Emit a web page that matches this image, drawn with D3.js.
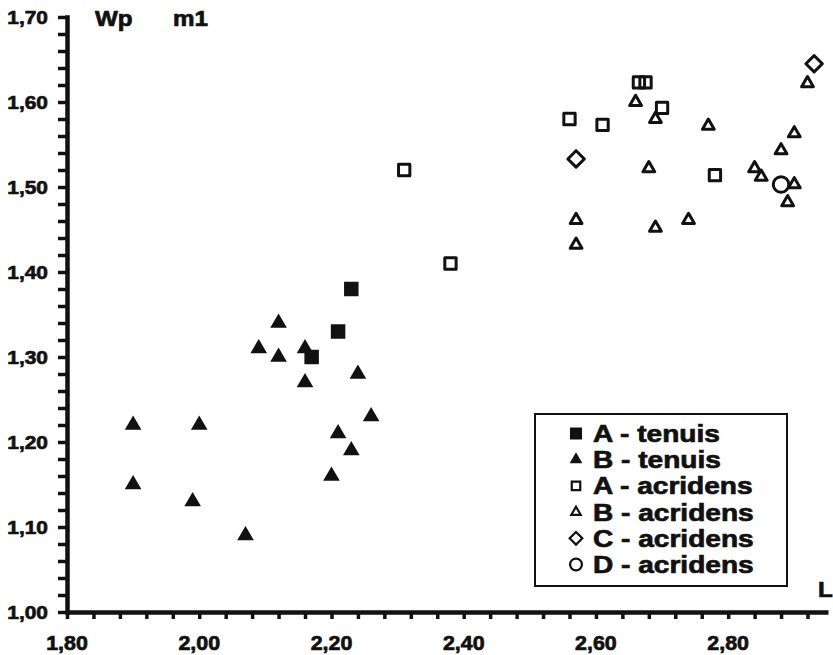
<!DOCTYPE html>
<html>
<head>
<meta charset="utf-8">
<script src="https://cdn.jsdelivr.net/npm/d3@7"></script>
<style>
  body { margin: 0; background: #fff; }
  svg { display: block; }
  text { font-family: "Liberation Sans", Arial, sans-serif; font-weight: bold; fill: #111; stroke: #111; stroke-width: 0.7px; }
</style>
</head>
<body>
<div id="chart"></div>
<script>
// Tick labels
const xTickValues = [1.8, 2.0, 2.2, 2.4, 2.6, 2.8];
const xTickLabels = ["1,80", "2,00", "2,20", "2,40", "2,60", "2,80"];
const yTickValues = [1.0, 1.1, 1.2, 1.3, 1.4, 1.5, 1.6, 1.7];
const yTickLabels = ["1,00", "1,10", "1,20", "1,30", "1,40", "1,50", "1,60", "1,70"];

// Series: [L, Wp]
const aTenuis = [[2.23, 1.38], [2.21, 1.33], [2.17, 1.30]];
const bTenuis = [
  [1.90, 1.22], [1.90, 1.15], [2.00, 1.22], [1.99, 1.13], [2.07, 1.09],
  [2.09, 1.31], [2.12, 1.34], [2.12, 1.30], [2.16, 1.31], [2.16, 1.27],
  [2.24, 1.28], [2.26, 1.23], [2.21, 1.21], [2.23, 1.19], [2.20, 1.16]
];
const aAcridens = [
  [2.31, 1.52], [2.38, 1.41], [2.56, 1.58], [2.61, 1.573],
  [2.665, 1.623], [2.675, 1.623], [2.70, 1.593], [2.78, 1.514]
];
const bAcridens = [
  [2.66, 1.60], [2.69, 1.58], [2.77, 1.572], [2.68, 1.522], [2.57, 1.461],
  [2.57, 1.432], [2.69, 1.452], [2.74, 1.461], [2.84, 1.522], [2.85, 1.512],
  [2.88, 1.543], [2.90, 1.563], [2.90, 1.503], [2.89, 1.482], [2.92, 1.622]
];
const cAcridens = [[2.57, 1.533], [2.93, 1.645]];
const dAcridens = [[2.88, 1.503]];

const legendLabels = ["A - tenuis", "B - tenuis", "A - acridens", "B - acridens", "C - acridens", "D - acridens"];

const W = 833, H = 655;
const ink = "#111";

const svg = d3.select("#chart").append("svg")
  .attr("width", W)
  .attr("height", H)
  .attr("viewBox", [0, 0, W, H]);

// Scales
const x = d3.scaleLinear().domain([1.80, 2.951]).range([67, 828]);
const y = d3.scaleLinear().domain([1.00, 1.70]).range([612, 17]);

// stretched bold text, like the scanned original
function label(g, tx, ty, str, size, anchor, sx) {
  return g.append("text")
    .attr("transform", `translate(${tx},${ty}) scale(${sx},1)`)
    .attr("text-anchor", anchor)
    .style("font-size", size + "px")
    .text(str);
}

// X axis
const xMinor = d3.range(1.80, 2.93, 0.04);
svg.append("g")
  .attr("transform", `translate(0,${y(1.0)})`)
  .call(d3.axisBottom(x).tickValues(xMinor).tickSize(7).tickSizeOuter(0).tickFormat(""))
  .call((g) => g.select(".domain").attr("stroke", ink).attr("stroke-width", 4.5))
  .call((g) => g.selectAll(".tick line").attr("stroke", ink).attr("stroke-width", 3.5));

// Y axis
const yMinor = d3.range(1.00, 1.701, 0.02);
svg.append("g")
  .attr("transform", `translate(${x(1.8)},0)`)
  .call(d3.axisLeft(y).tickValues(yMinor).tickSize(9).tickSizeOuter(0).tickFormat(""))
  .call((g) => g.select(".domain").attr("stroke", ink).attr("stroke-width", 4.5).attr("stroke-linecap", "square"))
  .call((g) => g.selectAll(".tick line").attr("stroke", ink).attr("stroke-width", 3.5));

const labels = svg.append("g");
xTickValues.forEach((v, i) => label(labels, x(v), 650, xTickLabels[i], 20, "middle", 1.07));
yTickValues.forEach((v, i) => label(labels, 48, y(v) + 7, yTickLabels[i], 19, "end", 1.1));

label(labels, 95, 26, "Wp", 22, "start", 1.1);
label(labels, 173, 26, "m1", 22, "start", 1.1);
label(labels, 818, 597, "L", 22, "start", 1.1);

// Markers
const sym = (type, size) => d3.symbol().type(type).size(size)();

const series = [
  { data: aTenuis, path: sym(d3.symbolSquare, 210), fill: ink, stroke: "none", rot: 0 },
  { data: bTenuis, path: sym(d3.symbolTriangle, 120), fill: ink, stroke: "none", rot: 0 },
  { data: aAcridens, path: sym(d3.symbolSquare, 128), fill: "none", stroke: ink, rot: 0 },
  { data: bAcridens, path: sym(d3.symbolTriangle, 60), fill: "none", stroke: ink, rot: 0 },
  { data: cAcridens, path: sym(d3.symbolSquare, 136), fill: "none", stroke: ink, rot: 45 },
  { data: dAcridens, path: sym(d3.symbolCircle, 190), fill: "none", stroke: ink, rot: 0 }
];

series.forEach((s) => {
  svg.append("g")
    .selectAll("path")
    .data(s.data)
    .join("path")
    .attr("transform", (d) => `translate(${x(d[0])},${y(d[1])}) rotate(${s.rot})`)
    .attr("d", s.path)
    .attr("fill", s.fill)
    .attr("stroke", s.stroke)
    .attr("stroke-width", 3)
    .attr("stroke-linejoin", "round");
});

// Legend
const legend = svg.append("g");
legend.append("rect")
  .attr("x", 535).attr("y", 414)
  .attr("width", 252).attr("height", 172)
  .attr("fill", "#fff")
  .attr("stroke", ink)
  .attr("stroke-width", 2);

const legendSyms = [
  { path: sym(d3.symbolSquare, 144), fill: ink, stroke: "none", rot: 0 },
  { path: sym(d3.symbolTriangle, 70), fill: ink, stroke: "none", rot: 0 },
  { path: sym(d3.symbolSquare, 72), fill: "none", stroke: ink, rot: 0 },
  { path: sym(d3.symbolTriangle, 38), fill: "none", stroke: ink, rot: 0 },
  { path: sym(d3.symbolSquare, 80), fill: "none", stroke: ink, rot: 45 },
  { path: sym(d3.symbolCircle, 110), fill: "none", stroke: ink, rot: 0 }
];

legendLabels.forEach((name, i) => {
  const base = 442 + i * 26.2;
  const s = legendSyms[i];
  legend.append("path")
    .attr("transform", `translate(576,${base - 8.5}) rotate(${s.rot})`)
    .attr("d", s.path)
    .attr("fill", s.fill)
    .attr("stroke", s.stroke)
    .attr("stroke-width", 2.2);
  label(legend, 593, base, name, 24, "start", 1.17);
});
</script>
</body>
</html>
